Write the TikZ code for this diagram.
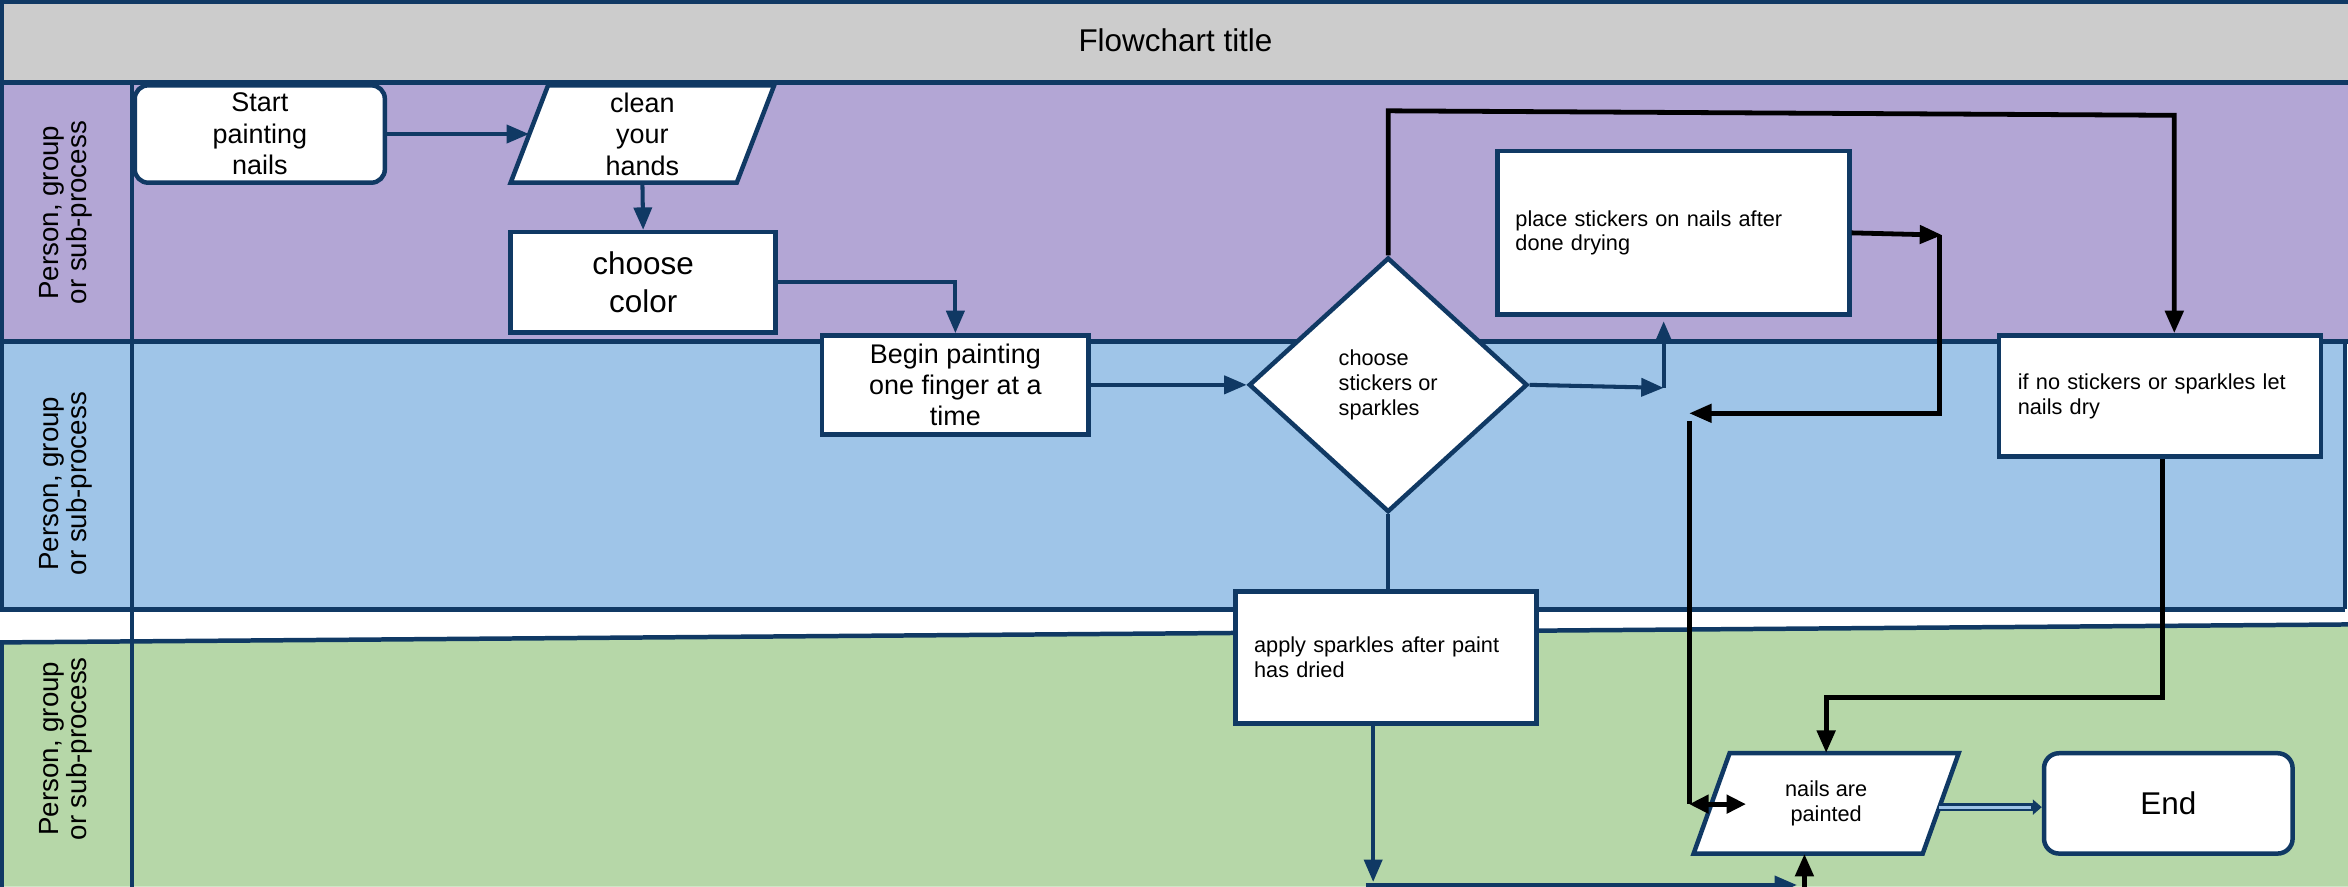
\documentclass[tikz,border=0pt]{standalone}
\usepackage{fontspec}
\setmainfont{Liberation Sans}
\usetikzlibrary{arrows.meta,shapes.geometric,calc}
\definecolor{dkb}{RGB}{16,57,100}
\definecolor{lanep}{RGB}{179,166,213}
\definecolor{laneb}{RGB}{159,197,232}
\definecolor{laneg}{RGB}{182,215,168}
\definecolor{titleg}{RGB}{204,204,204}
\begin{document}
\begin{tikzpicture}[x=1pt,y=-1pt,
  lanebar/.style={draw=dkb,line width=3},
  lanelabel/.style={rotate=90,align=center,font=\fontsize{18.5}{19}\selectfont,inner sep=0pt},
  box/.style={rectangle,draw=dkb,fill=white,line width=3,inner sep=0pt,align=center,text=black},
  shapeline/.style={draw=dkb,fill=white,line width=3},
  bigtxt/.style={font=\fontsize{18}{21}\selectfont},
  hugetxt/.style={font=\fontsize{21}{26}\selectfont},
  smalltxt/.style={font=\fontsize{14.5}{16.5}\selectfont},
  flow/.style={draw=dkb,line width=2.7},
  flowarr/.style={flow,-{Triangle[length=15pt,width=12pt]}},
  blk/.style={draw=black,line width=3.2},
  blkarr/.style={blk,-{Triangle[length=15pt,width=12pt]}},
]
\useasboundingbox (0,0) rectangle (1568,592);
\clip (0,0) rectangle (1568,592);
% lanes
\fill[white] (0,0) rectangle (1568,592);
\fill[titleg] (0,0) rectangle (1568,55);
\fill[lanep] (0,55) rectangle (1568,228);
\fill[laneb] (0,228) rectangle (1566,407);
\fill[laneg] (0,429) -- (1568,417) -- (1568,592) -- (0,592) -- cycle;
\draw[lanebar] (0,1.5) -- (1568,1.5);
\draw[lanebar] (0,55) -- (1568,55);
\draw[lanebar] (0,228) -- (1568,228);
\draw[lanebar] (0,407) -- (1566,407);
\draw[lanebar] (0,429) -- (1568,417);
\draw[lanebar] (1566,228) -- (1566,407);
\draw[lanebar] (1.5,0) -- (1.5,407);
\draw[lanebar] (1.5,429) -- (1.5,592);
\draw[lanebar] (88,55) -- (88,592);
\node[hugetxt] (title) at (785,27) {Flowchart title};
\node[lanelabel] (l1) at (44,142) {Person, group\\or sub-process};
\node[lanelabel] (l2) at (44,323) {Person, group\\or sub-process};
\node[lanelabel] (l3) at (44,500) {Person, group\\or sub-process};
% nodes
\node[box,bigtxt,rounded corners=9pt,minimum width=167,minimum height=65] (start) at (173.5,89.5) {Start\\painting\\nails};
\draw[shapeline] (341,122) -- (366,57) -- (517,57) -- (492,122) -- cycle;
\node[inner sep=0pt,minimum width=176,minimum height=65,align=center,bigtxt] (clean) at (429,89.5) {clean\\your\\hands};
\node[box,hugetxt,minimum width=177,minimum height=67] (colr) at (429.5,188.5) {choose\\color};
\node[box,bigtxt,minimum width=178,minimum height=66] (begin) at (638,257) {Begin painting\\one finger at a\\time};
\node[shape=diamond,draw=dkb,fill=white,line width=3,minimum width=186,minimum height=170,inner sep=0pt,align=left,smalltxt] (dia) at (927,257) {choose\\stickers or\\sparkles};
\node[box,smalltxt,align=left,inner xsep=12pt,text width=211,minimum height=109] (place) at (1117.5,155.5) {place stickers on nails after\\done drying};
\node[box,smalltxt,align=left,inner xsep=12.5pt,text width=190,minimum height=81] (ifno) at (1442.5,264.5) {if no stickers or sparkles let\\nails dry};
\node[box,smalltxt,align=left,inner xsep=12.5pt,text width=176,minimum height=88] (apply) at (925.5,439) {apply sparkles after paint\\has dried};
\draw[shapeline] (1131,570) -- (1155,503) -- (1308,503) -- (1284,570) -- cycle;
\node[inner sep=0pt,minimum width=177,minimum height=67,align=center,smalltxt] (nails) at (1219.5,536.5) {nails are\\painted};
\node[box,hugetxt,rounded corners=10pt,minimum width=166,minimum height=67] (end) at (1448,536.5) {End};
% connectors
\draw[flowarr] (start.east) -- ($(clean.west)+(12.5,0)$);
\draw[flowarr] (clean.south) -- (colr.north);
\draw[flowarr] (colr.east) -| (begin.north);
\draw[flowarr] (begin.east) -- (dia.west);
\coordinate (j1) at (1111,259);
\draw[flowarr] (dia.east) -- (j1);
\draw[flowarr] (j1) -- ($(j1 |- place.south)+(0,3)$);
\coordinate (t1) at (927,74);
\coordinate (t2) at (1452,77);
\draw[blkarr] (dia.north) -- (t1) -- (t2) -- (t2 |- ifno.north);
\coordinate (p1) at (1297,157);
\draw[blkarr] (place.east) -- (p1);
\coordinate (p1b) at (1295,157);
\coordinate (p2) at (1295,276);
\coordinate (p3) at (1128,276);
\draw[blkarr] (p1b) -- (p2) -- (p3);
\coordinate (p4) at (1128,281);
\coordinate (p5) at (1128,537);
\coordinate (p6) at (1166,537);
\draw[blk] (p4) -- (p5);
\draw[blk,{Triangle[length=13pt,width=12pt]}-{Triangle[length=13pt,width=12pt]}] (p5) -- (p6);
\coordinate (r1) at (1444,466);
\draw[blkarr] (ifno.south -| r1) -- (r1) -| (nails.north);
\draw[flow] (dia.south) -- (dia.south |- apply.north);
\coordinate (b1) at (917,589);
\draw[flowarr] (apply.south -| b1) -- (b1);
\coordinate (b0) at (912,591);
\coordinate (b2) at (1200,591);
\draw[flowarr] (b0) -- (b2);
\coordinate (u0) at (1205,600);
\draw[blkarr] (u0) -- (u0 |- nails.south);
\coordinate (n1) at (1295,539);
\draw[draw=dkb,line width=5.5,-{Triangle[length=6pt,width=10pt]}] (n1) -- (n1 -| end.west);
\draw[draw=laneb,line width=2] (n1) -- ($(n1 -| end.west)+(-7,0)$);
\end{tikzpicture}
\end{document}
